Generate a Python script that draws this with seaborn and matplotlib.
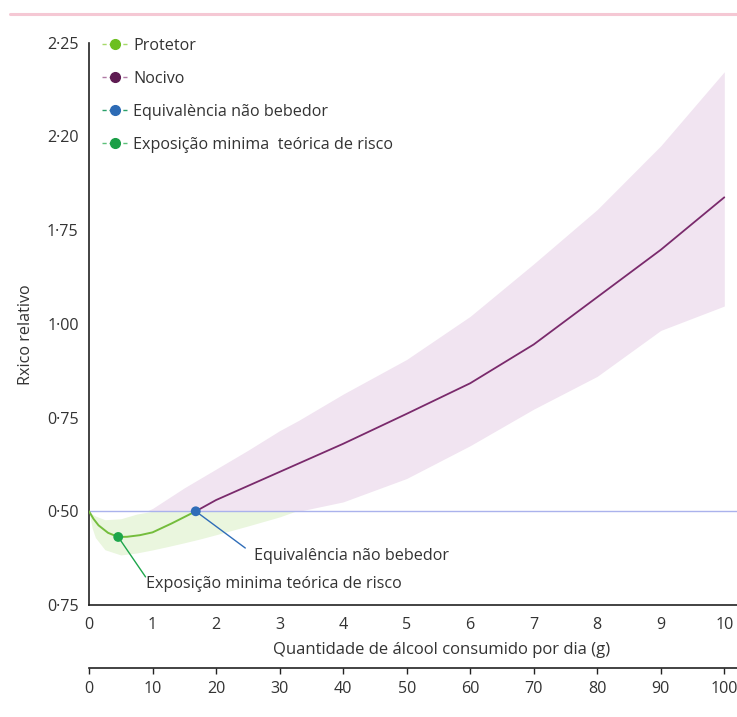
import matplotlib
matplotlib.use("Agg")
import matplotlib.pyplot as plt
import seaborn as sns
import pandas as pd
from matplotlib.lines import Line2D

# ---------------- data (y in tick-slot units: one labelled tick per unit) ----
y_tick_labels = ["0·75", "0·50", "0·75", "1·00", "1·75", "2·20", "2·25"]
x_ticks_top = [0, 1, 2, 3, 4, 5, 6, 7, 8, 9, 10]
x_ticks_bottom = [0, 10, 20, 30, 40, 50, 60, 70, 80, 90, 100]

prot_x = [0, 0.07, 0.15, 0.30, 0.46, 0.60, 0.80, 1.00, 1.30, 1.68]
prot_y = [1.0, 0.92, 0.85, 0.77, 0.726, 0.728, 0.745, 0.775, 0.87, 1.0]

prot_band_x = [0, 0.05, 0.1, 0.25, 0.5, 0.75, 1.0, 1.25, 1.5, 1.75, 2.0, 2.5, 3.0, 3.25]
prot_band_lo = [1.0, 0.82, 0.72, 0.59, 0.534, 0.555, 0.588, 0.625, 0.664, 0.705, 0.75, 0.843, 0.94, 1.0]
prot_band_hi = [1.0, 0.97, 0.95, 0.91, 0.92, 0.97, 1.0, 1.0, 1.0, 1.0, 1.0, 1.0, 1.0, 1.0]

harm_x = [1.68, 2, 2.5, 3, 4, 5, 6, 7, 8, 9, 10]
harm_y = [1.0, 1.12, 1.27, 1.42, 1.72, 2.04, 2.366, 2.78, 3.285, 3.79, 4.35]

harm_band_x = [0.9, 1, 1.5, 2, 2.5, 3, 3.3, 4, 5, 6, 7, 8, 9, 10]
harm_band_hi = [1.0, 1.03, 1.25, 1.45, 1.65, 1.86, 1.97, 2.25, 2.62, 3.08, 3.64, 4.22, 4.90, 5.69]
harm_band_lo = [1.0, 1.0, 1.0, 1.0, 1.0, 1.0, 1.0, 1.10, 1.35, 1.70, 2.09, 2.44, 2.93, 3.19]

ref_level = 1.0
nondrinker_x, nondrinker_y = [1.68], [1.0]
tmrel_x, tmrel_y = [0.46], [0.726]

legend_labels = ["Protetor", "Nocivo", "Equivalència não bebedor",
                 "Exposição minima  teórica de risco"]
ann_nondrinker = "Equivalência não bebedor"
ann_tmrel = "Exposição minima teórica de risco"
x_label = "Quantidade de álcool consumido por dia (g)"
y_label = "Rxico relativo"

# ---------------- style ----------------
sns.set_style("white")
plt.rcParams["font.family"] = ["Open Sans", "DejaVu Sans"]
FS = 11.6
txt = "#333333"
axc = "#222222"
green_line = "#74bd3c"
green_band = "#eaf6de"
purple_line = "#7a2a6c"
purple_band = "#f1e4f1"
blue = "#2f6db8"
tmrel_c = "#1ea64b"
ref_c = "#aab2ec"

W, H = 737, 717
fig = plt.figure(figsize=(W / 100, H / 100), dpi=100)
fig.patch.set_facecolor("white")
ax = fig.add_axes([89 / W, 1 - 605 / H, (W - 89) / W, (605 - 42.7) / H])

# bands
ax.fill_between(harm_band_x, harm_band_lo, harm_band_hi, color=purple_band, lw=0, zorder=1)
ax.fill_between(prot_band_x, prot_band_lo, prot_band_hi, color=green_band, lw=0, zorder=1)

ax.axhline(ref_level, color=ref_c, lw=1.0, zorder=2)

df_p = pd.DataFrame({"x": prot_x, "y": prot_y})
df_h = pd.DataFrame({"x": harm_x, "y": harm_y})
sns.lineplot(data=df_p, x="x", y="y", ax=ax, color=green_line, lw=1.4, sort=False, zorder=3)
sns.lineplot(data=df_h, x="x", y="y", ax=ax, color=purple_line, lw=1.3, sort=False, zorder=3)

# annotation leader lines (from the points)
ax.plot([nondrinker_x[0], 2.46], [nondrinker_y[0], 0.608], color=blue, lw=1.0, zorder=3)
ax.plot([tmrel_x[0], 0.89], [tmrel_y[0], 0.30], color=tmrel_c, lw=1.0, zorder=3)

sns.scatterplot(x=nondrinker_x, y=nondrinker_y, ax=ax, color=blue, s=50, edgecolor="none", zorder=4)
sns.scatterplot(x=tmrel_x, y=tmrel_y, ax=ax, color=tmrel_c, s=50, edgecolor="none", zorder=4)

ax.text(2.59, 0.52, ann_nondrinker, fontsize=FS, color=txt, va="center", ha="left")
ax.text(0.90, 0.22, ann_tmrel, fontsize=FS, color=txt, va="center", ha="left")

# axes
ax.set_xlim(0, 10.2)
ax.set_ylim(0, 6)
ax.set_xticks(x_ticks_top)
ax.set_xticklabels([str(v) for v in x_ticks_top])
ax.set_yticks(range(len(y_tick_labels)))
ax.set_yticklabels(y_tick_labels)
for s in ["top", "right"]:
    ax.spines[s].set_visible(False)
for s in ["left", "bottom"]:
    ax.spines[s].set_color(axc)
    ax.spines[s].set_linewidth(1.2)
ax.tick_params(axis="both", direction="out", length=4.5, width=1.0, color=axc,
               labelcolor=txt, labelsize=FS, pad=3)
ax.tick_params(axis="x", pad=4)
ax.set_xlabel(x_label, fontsize=12, color=txt)
ax.xaxis.set_label_coords((442 - 89) / 648, -(650 - 605) / 562.3)
ax.xaxis.label.set_va("center")
ax.set_ylabel(y_label, fontsize=FS, color=txt)
ax.yaxis.set_label_coords((26 - 89) / 648, (605 - 335) / 562.3)
ax.yaxis.label.set_va("center")
ax.set_facecolor("white")

sec = ax.secondary_xaxis(-(667.7 - 605) / 562.3, functions=(lambda v: v * 10, lambda v: v / 10))
sec.set_xticks(x_ticks_bottom)
sec.set_xticklabels([str(v) for v in x_ticks_bottom])
sec.spines["bottom"].set_color(axc)
sec.spines["bottom"].set_linewidth(1.2)
sec.tick_params(axis="x", direction="out", length=4.5, width=1.0, color=axc,
                labelcolor=txt, labelsize=FS, pad=5)

# legend
dash = (0, (3, 2))
handles = [
    Line2D([0], [0], color="#a6d96a", marker="o", mfc="#6cbf1f", mec="#6cbf1f", ms=7, lw=1, ls=dash),
    Line2D([0], [0], color="#b07aa5", marker="o", mfc="#5e1b52", mec="#5e1b52", ms=7, lw=1, ls=dash),
    Line2D([0], [0], color="#2aa06a", marker="o", mfc="#2d6bb5", mec="#2d6bb5", ms=7, lw=1, ls=dash),
    Line2D([0], [0], color="#5cc07a", marker="o", mfc="#1a9e46", mec="#1a9e46", ms=7, lw=1, ls=dash),
]
leg = fig.legend(handles, legend_labels, loc="upper left", bbox_to_anchor=(102 / W, 1 - 38 / H),
                 frameon=False, fontsize=FS, handlelength=1.6, handletextpad=0.35,
                 labelspacing=1.05, borderpad=0, borderaxespad=0)
for t in leg.get_texts():
    t.set_color(txt)

# pink rule at top
fig.add_artist(Line2D([10 / W, 1], [1 - 14 / H, 1 - 14 / H], transform=fig.transFigure,
                      color="#f5c8d4", lw=2.2))

fig.savefig("out.png", dpi=100)
